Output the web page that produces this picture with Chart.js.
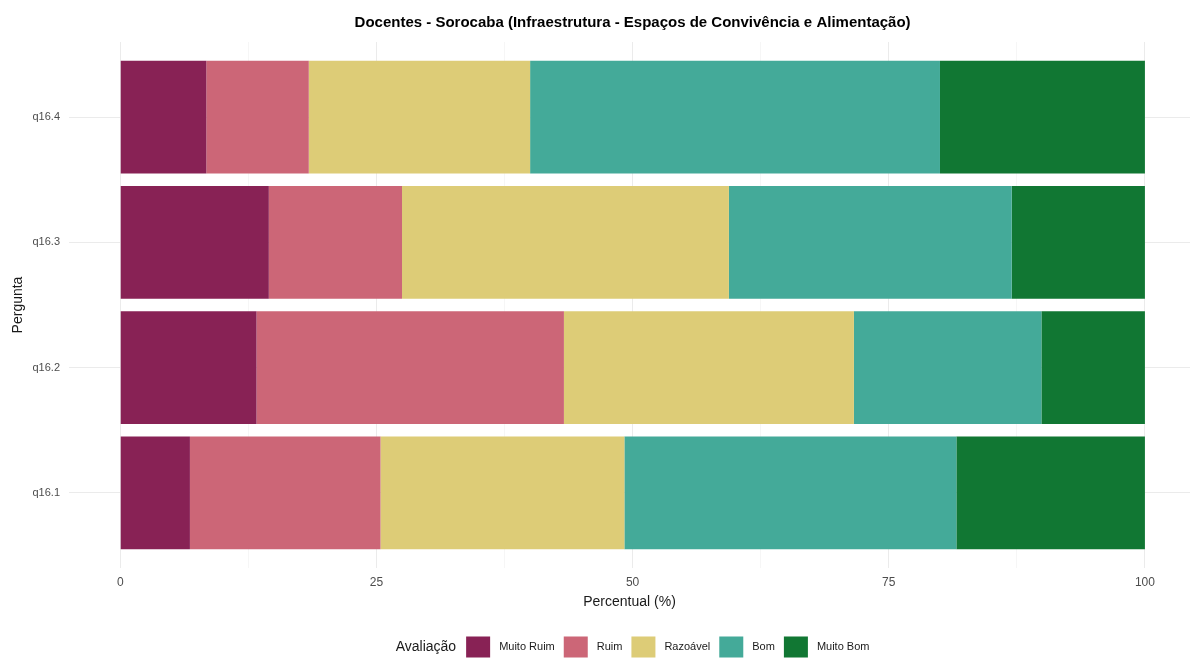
<!DOCTYPE html>
<html>
<head>
<meta charset="utf-8">
<script src="https://cdn.jsdelivr.net/npm/chart.js@4/dist/chart.umd.min.js"></script>
<style>
  body { margin: 0; background: #fff; }
  #wrap { width: 1190px; height: 658px; }
</style>
</head>
<body>
<div id="wrap"><canvas id="myChart" width="1190" height="658"></canvas></div>
<script>
// values (percent), one array per rating, categories bottom -> top
var categories = ['q16.1', 'q16.2', 'q16.3', 'q16.4'];
var ratings = ['Muito Ruim', 'Ruim', 'Razoável', 'Bom', 'Muito Bom'];
var muitoRuim = [6.8, 13.3, 14.5, 8.4];
var ruim = [18.6, 30.0, 13.0, 10.0];
var razoavel = [23.8, 28.3, 31.9, 21.6];
var bom = [32.4, 18.3, 27.6, 40.0];
var muitoBom = [18.4, 10.1, 13.0, 20.0];
var xTicks = [0, 12.5, 25, 37.5, 50, 62.5, 75, 87.5, 100];

var colors = ['#882255', '#CC6677', '#DDCC77', '#44AA99', '#117733'];
var series = [muitoRuim, ruim, razoavel, bom, muitoBom];

var FONT = "'Liberation Sans', Arial, sans-serif";

var datasets = series.map(function(values, k) {
  return {
    label: ratings[k],
    data: values.map(function(v, i) { return {x: v, y: i}; }),
    backgroundColor: colors[k],
    borderWidth: 0,
    categoryPercentage: 0.9,
    barPercentage: 1
  };
});

// title + legend drawn on the canvas, centred on the panel like ggplot does
var decor = {
  id: 'decor',
  afterDraw: function(chart) {
    var c = chart.ctx;
    var xs = chart.scales.x;
    var cx = (xs.getPixelForValue(-5) + xs.getPixelForValue(105)) / 2;
    c.save();
    c.fillStyle = '#000';
    c.font = 'bold 15px ' + FONT;
    c.textAlign = 'center';
    c.textBaseline = 'middle';
    c.fillText('Docentes - Sorocaba (Infraestrutura - Espaços de Convivência e Alimentação)', cx, 23);

    // legend
    var titleFont = '14px ' + FONT, itemFont = '11px ' + FONT;
    var boxW = 24, boxH = 21, gapBox = 9, gapItem = 9, gapTitle = 10;
    c.font = titleFont;
    var total = c.measureText('Avaliação').width + gapTitle;
    c.font = itemFont;
    ratings.forEach(function(r, k) {
      total += boxW + gapBox + c.measureText(r).width + (k < ratings.length - 1 ? gapItem : 0);
    });
    var x = cx - total / 2, y = 647;
    c.textAlign = 'left';
    c.font = titleFont;
    c.fillStyle = '#1a1a1a';
    c.fillText('Avaliação', x, y);
    x += c.measureText('Avaliação').width + gapTitle;
    c.font = itemFont;
    ratings.forEach(function(r, k) {
      c.fillStyle = colors[k];
      c.fillRect(x, y - boxH / 2, boxW, boxH);
      x += boxW + gapBox;
      c.fillStyle = '#1a1a1a';
      c.fillText(r, x, y);
      x += c.measureText(r).width + gapItem;
    });
    c.restore();
  }
};

var ctx = document.getElementById('myChart');
var config = {
  type: 'bar',
  data: { datasets: datasets },
  options: {
    indexAxis: 'y',
    responsive: false,
    animation: false,
    layout: { padding: { top: 42, bottom: 40, left: 0, right: 0 } },
    plugins: {
      legend: { display: false },
      title: { display: false },
      tooltip: { enabled: false }
    },
    scales: {
      x: {
        type: 'linear',
        stacked: true,
        min: -5,
        max: 104.4,
        afterBuildTicks: function(s) {
          s.ticks = xTicks.map(function(v) { return {value: v}; });
        },
        afterFit: function(s) { s.height = 50; },
        border: { display: false },
        grid: {
          drawTicks: false,
          color: function(c) { return c.tick && c.tick.value % 25 === 0 ? '#ebebeb' : '#f4f4f4'; },
          lineWidth: function(c) { return c.tick && c.tick.value % 25 === 0 ? 1 : 0.8; }
        },
        ticks: {
          padding: 7,
          color: '#4d4d4d',
          font: { family: FONT, size: 12 },
          maxRotation: 0,
          autoSkip: false,
          callback: function(v) { return v % 25 === 0 ? v : ''; }
        },
        title: {
          display: true,
          text: 'Percentual (%)',
          color: '#1a1a1a',
          font: { family: FONT, size: 14 },
          padding: { top: 0, bottom: 7 }
        }
      },
      y: {
        type: 'linear',
        stacked: true,
        offset: false,
        min: -0.6,
        max: 3.6,
        afterBuildTicks: function(s) {
          s.ticks = categories.map(function(c, i) { return {value: i}; });
        },
        afterFit: function(s) { s.width = 69; },
        border: { display: false },
        grid: { drawTicks: false, offset: false, color: '#ebebeb', lineWidth: 1 },
        ticks: {
          padding: 9,
          color: '#4d4d4d',
          font: { family: FONT, size: 11 },
          autoSkip: false,
          callback: function(v) { return categories[v]; }
        },
        title: {
          display: true,
          text: 'Pergunta',
          color: '#1a1a1a',
          font: { family: FONT, size: 14 },
          padding: { top: 10, bottom: 0 }
        }
      }
    }
  },
  plugins: [decor]
};
var myChart = new Chart(ctx, config);
</script>
</body>
</html>
